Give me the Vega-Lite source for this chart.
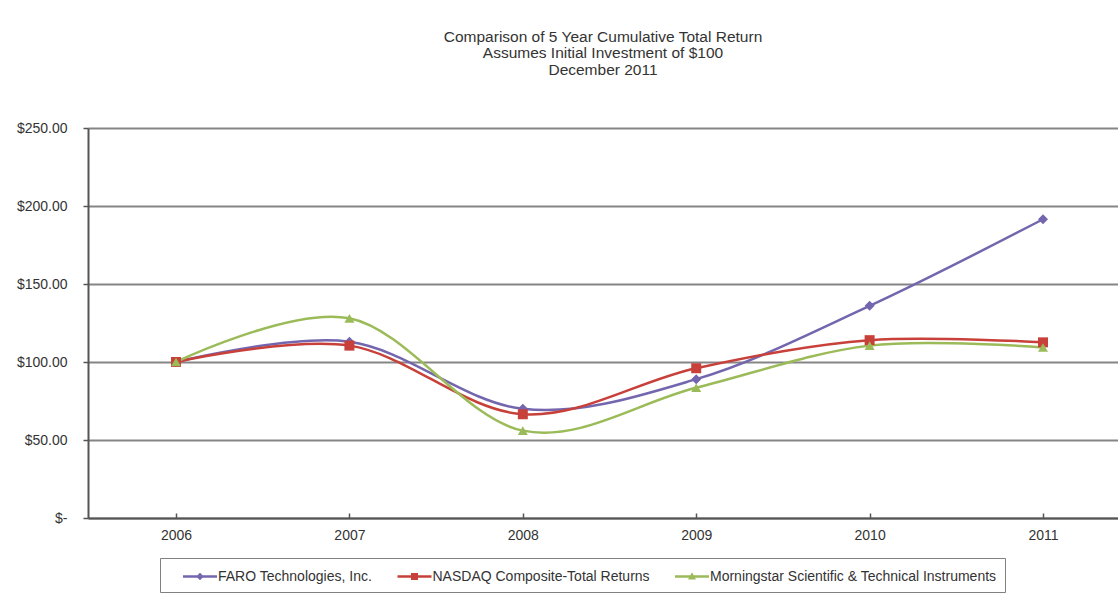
{
  "$schema": "https://vega.github.io/schema/vega-lite/v6.json",
  "width": 1030,
  "height": 390,
  "autosize": {"type": "none"},
  "padding": {"left": 88, "top": 128, "right": 0, "bottom": 85},
  "background": "white",
  "config": {
    "view": {"stroke": null},
    "font": "Liberation Sans"
  },
  "title": {
    "text": ["Comparison of 5 Year Cumulative  Total Return", "Assumes Initial Investment  of $100", "December 2011"],
    "fontSize": 15.5,
    "fontWeight": "normal",
    "lineHeight": 16.5,
    "offset": 43,
    "color": "#333333",
    "anchor": "middle",
    "frame": "group"
  },
  "data": {
    "values": [
      {"year": "2006", "series": "FARO Technologies, Inc.", "value": 100},
      {"year": "2007", "series": "FARO Technologies, Inc.", "value": 113},
      {"year": "2008", "series": "FARO Technologies, Inc.", "value": 70},
      {"year": "2009", "series": "FARO Technologies, Inc.", "value": 89},
      {"year": "2010", "series": "FARO Technologies, Inc.", "value": 136},
      {"year": "2011", "series": "FARO Technologies, Inc.", "value": 191.5},
      {"year": "2006", "series": "NASDAQ Composite-Total Returns", "value": 100},
      {"year": "2007", "series": "NASDAQ Composite-Total Returns", "value": 110.5},
      {"year": "2008", "series": "NASDAQ Composite-Total Returns", "value": 66.5},
      {"year": "2009", "series": "NASDAQ Composite-Total Returns", "value": 96},
      {"year": "2010", "series": "NASDAQ Composite-Total Returns", "value": 114},
      {"year": "2011", "series": "NASDAQ Composite-Total Returns", "value": 112.6},
      {"year": "2006", "series": "Morningstar Scientific & Technical Instruments", "value": 100},
      {"year": "2007", "series": "Morningstar Scientific & Technical Instruments", "value": 128},
      {"year": "2008", "series": "Morningstar Scientific & Technical Instruments", "value": 56},
      {"year": "2009", "series": "Morningstar Scientific & Technical Instruments", "value": 83.5},
      {"year": "2010", "series": "Morningstar Scientific & Technical Instruments", "value": 110.5},
      {"year": "2011", "series": "Morningstar Scientific & Technical Instruments", "value": 109.3}
    ]
  },
  "encoding": {
    "x": {
      "field": "year",
      "type": "ordinal",
      "scale": {"type": "point", "padding": 0.47, "align": 0.54},
      "axis": {
        "title": null,
        "labelAngle": 0,
        "labelFontSize": 14,
        "labelColor": "#333333",
        "domainColor": "#555555",
        "domainWidth": 2,
        "tickColor": "#555555",
        "tickWidth": 1.5,
        "tickSize": -5,
        "labelPadding": 15,
        "grid": false
      }
    },
    "y": {
      "field": "value",
      "type": "quantitative",
      "scale": {"domain": [0, 250], "nice": false, "zero": true},
      "axis": {
        "title": null,
        "values": [0, 50, 100, 150, 200, 250],
        "labelExpr": "datum.value == 0 ? '$-' : '$' + format(datum.value, '.2f')",
        "labelFontSize": 14,
        "labelColor": "#333333",
        "labelPadding": 16,
        "tickSize": 5,
        "tickColor": "#555555",
        "tickWidth": 1.5,
        "domainColor": "#555555",
        "domainWidth": 2,
        "grid": true,
        "gridColor": "#858585",
        "gridWidth": 2
      }
    }
  },
  "layer": [
    {
      "mark": {"type": "line", "interpolate": "cardinal", "tension": 0, "strokeWidth": 2.5},
      "encoding": {
        "color": {
          "field": "series",
          "type": "nominal",
          "scale": {
            "domain": ["FARO Technologies, Inc.", "NASDAQ Composite-Total Returns", "Morningstar Scientific & Technical Instruments"],
            "range": ["#7466AE", "#C8403A", "#9BBB59"]
          },
          "legend": null
        }
      }
    },
    {
      "mark": {"type": "point", "filled": true, "size": 100, "opacity": 1},
      "encoding": {
        "color": {
          "field": "series",
          "type": "nominal",
          "scale": {
            "domain": ["FARO Technologies, Inc.", "NASDAQ Composite-Total Returns", "Morningstar Scientific & Technical Instruments"],
            "range": ["#7466AE", "#C8403A", "#9BBB59"]
          },
          "legend": null
        },
        "shape": {
          "field": "series",
          "type": "nominal",
          "scale": {
            "domain": ["FARO Technologies, Inc.", "NASDAQ Composite-Total Returns", "Morningstar Scientific & Technical Instruments"],
            "range": ["diamond", "square", "triangle-up"]
          },
          "legend": null
        }
      }
    },
    {
      "mark": {"type": "point", "filled": true, "size": 400, "opacity": 0},
      "encoding": {
        "color": {
          "field": "series",
          "type": "nominal",
          "scale": {
            "domain": ["FARO Technologies, Inc.", "NASDAQ Composite-Total Returns", "Morningstar Scientific & Technical Instruments"],
            "range": ["#7466AE", "#C8403A", "#9BBB59"]
          },
          "legend": {
            "title": null,
            "orient": "none",
            "legendX": 72,
            "legendY": 430,
            "direction": "horizontal",
            "strokeColor": "#808080",
            "padding": 8.5,
            "symbolOffset": 21.5,
            "labelOffset": 8,
            "columnPadding": 10.5,
            "symbolSize": 400,
            "symbolStrokeWidth": 0,
            "symbolOpacity": 1,
            "labelFontSize": 14,
            "labelColor": "#333333",
            "labelLimit": 400
          }
        },
        "shape": {
          "field": "series",
          "type": "nominal",
          "scale": {
            "domain": ["FARO Technologies, Inc.", "NASDAQ Composite-Total Returns", "Morningstar Scientific & Technical Instruments"],
            "range": [
              "M-1.7,-0.12H1.7V0.12H-1.7Z M0,-0.38L0.38,0L0,0.38L-0.38,0Z",
              "M-1.7,-0.12H1.7V0.12H-1.7Z M-0.35,-0.35H0.35V0.35H-0.35Z",
              "M-1.7,-0.12H1.7V0.12H-1.7Z M0,-0.42L0.4,0.3H-0.4Z"
            ]
          },
          "legend": {
            "title": null,
            "orient": "none",
            "legendX": 72,
            "legendY": 430,
            "direction": "horizontal",
            "strokeColor": "#808080",
            "padding": 8.5,
            "symbolOffset": 21.5,
            "labelOffset": 8,
            "columnPadding": 10.5,
            "symbolSize": 400,
            "symbolStrokeWidth": 0,
            "symbolOpacity": 1,
            "labelFontSize": 14,
            "labelColor": "#333333",
            "labelLimit": 400
          }
        }
      }
    }
  ],
  "resolve": {
    "scale": {"color": "independent", "shape": "independent"},
    "legend": {"color": "independent", "shape": "independent"}
  }
}
